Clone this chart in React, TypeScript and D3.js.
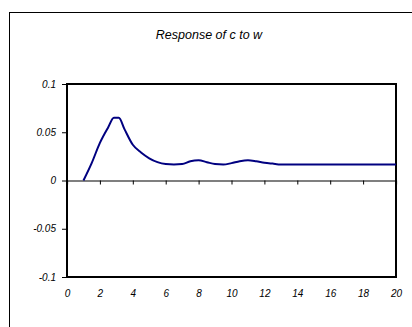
import React from "react";
import * as d3 from "d3";

// impulse response
const periods = [
  1, 1.5, 2, 2.5, 2.85, 3.15, 3.5, 4, 4.5, 5, 5.5, 6, 6.5, 7, 7.5, 8, 8.5, 9,
  9.5, 10, 10.5, 11, 11.5, 12, 12.5, 13, 14, 15, 16, 17, 18, 19, 20,
];
const response = [
  0, 0.018, 0.039, 0.055, 0.065, 0.065, 0.053, 0.037, 0.029, 0.023, 0.019,
  0.017, 0.0165, 0.017, 0.02, 0.021, 0.019, 0.017, 0.0165, 0.018, 0.02, 0.021,
  0.02, 0.0185, 0.0175, 0.0166, 0.0166, 0.0166, 0.0166, 0.0166, 0.0166, 0.0166,
  0.0166,
];
const xTicks = [0, 2, 4, 6, 8, 10, 12, 14, 16, 18, 20];
const yTicks = [-0.1, -0.05, 0, 0.05, 0.1];
const title = "Response of c to w";

export default function App() {
  const ref = React.useRef<SVGSVGElement>(null);

  React.useEffect(() => {
    const svg = d3.select(ref.current);
    svg.selectAll("*").remove();

    const width = 412;
    const height = 327;
    const margin = { top: 84, bottom: 50, left: 67, right: 16 };

    const x = d3
      .scaleLinear()
      .domain([0, 20])
      .range([margin.left, width - margin.right]);
    const y = d3
      .scaleLinear()
      .domain([-0.1, 0.1])
      .range([height - margin.bottom, margin.top]);

    const font = "'Liberation Sans', Arial, sans-serif";

    // outer chart frame
    svg.append("rect")
      .attr("x", 9.5)
      .attr("y", 12.5)
      .attr("width", 420)
      .attr("height", 330)
      .attr("fill", "#ffffff")
      .attr("stroke", "#000000")
      .attr("stroke-width", 1);

    // title
    svg.append("text")
      .attr("x", 209)
      .attr("y", 39)
      .attr("text-anchor", "middle")
      .attr("font-family", font)
      .attr("font-style", "italic")
      .attr("font-size", 12.5)
      .text(title);

    // y axis
    const yAxis = d3
      .axisLeft(y)
      .tickValues(yTicks)
      .tickSize(5)
      .tickPadding(6)
      .tickFormat((d) => String(d));
    const yG = svg
      .append("g")
      .attr("transform", `translate(${margin.left},0)`)
      .call(yAxis);
    yG.select(".domain").remove();
    yG.selectAll(".tick line").attr("stroke", "#000000");
    yG.selectAll(".tick text")
      .attr("font-family", font)
      .attr("font-style", "italic")
      .attr("font-size", 10)
      .attr("fill", "#000000");

    // tick marks hanging from the zero line
    const xAxis = d3
      .axisBottom(x)
      .tickValues(xTicks)
      .tickSize(4)
      .tickFormat(() => "");
    const xG = svg
      .append("g")
      .attr("transform", `translate(0,${y(0)})`)
      .call(xAxis);
    xG.select(".domain").attr("stroke", "#000000").attr("stroke-width", 1.2);
    xG.selectAll(".tick line").attr("stroke", "#000000");

    // labels below the plot
    const xLabels = d3
      .axisBottom(x)
      .tickValues(xTicks)
      .tickSize(0)
      .tickPadding(13)
      .tickFormat((d) => String(d));
    const xl = svg
      .append("g")
      .attr("transform", `translate(0,${height - margin.bottom})`)
      .call(xLabels);
    xl.select(".domain").remove();
    xl.selectAll(".tick text")
      .attr("font-family", font)
      .attr("font-style", "italic")
      .attr("font-size", 10)
      .attr("fill", "#000000");

    // plot area border
    svg.append("rect")
      .attr("x", margin.left)
      .attr("y", margin.top)
      .attr("width", width - margin.right - margin.left)
      .attr("height", height - margin.bottom - margin.top)
      .attr("fill", "none")
      .attr("stroke", "#000000")
      .attr("stroke-width", 2);

    // response line
    const data = periods.map((t, i) => ({ t, v: response[i] }));
    svg.append("path")
      .datum(data)
      .attr("fill", "none")
      .attr("stroke", "#000080")
      .attr("stroke-width", 2)
      .attr("stroke-linejoin", "round")
      .attr(
        "d",
        d3
          .line<{ t: number; v: number }>()
          .x((d) => x(d.t))
          .y((d) => y(d.v))
          .curve(d3.curveMonotoneX)
      );
  }, []);

  return (
    <svg
      ref={ref}
      width={412}
      height={327}
      style={{ position: "absolute", left: 0, top: 0, display: "block" }}
    />
  );
}
